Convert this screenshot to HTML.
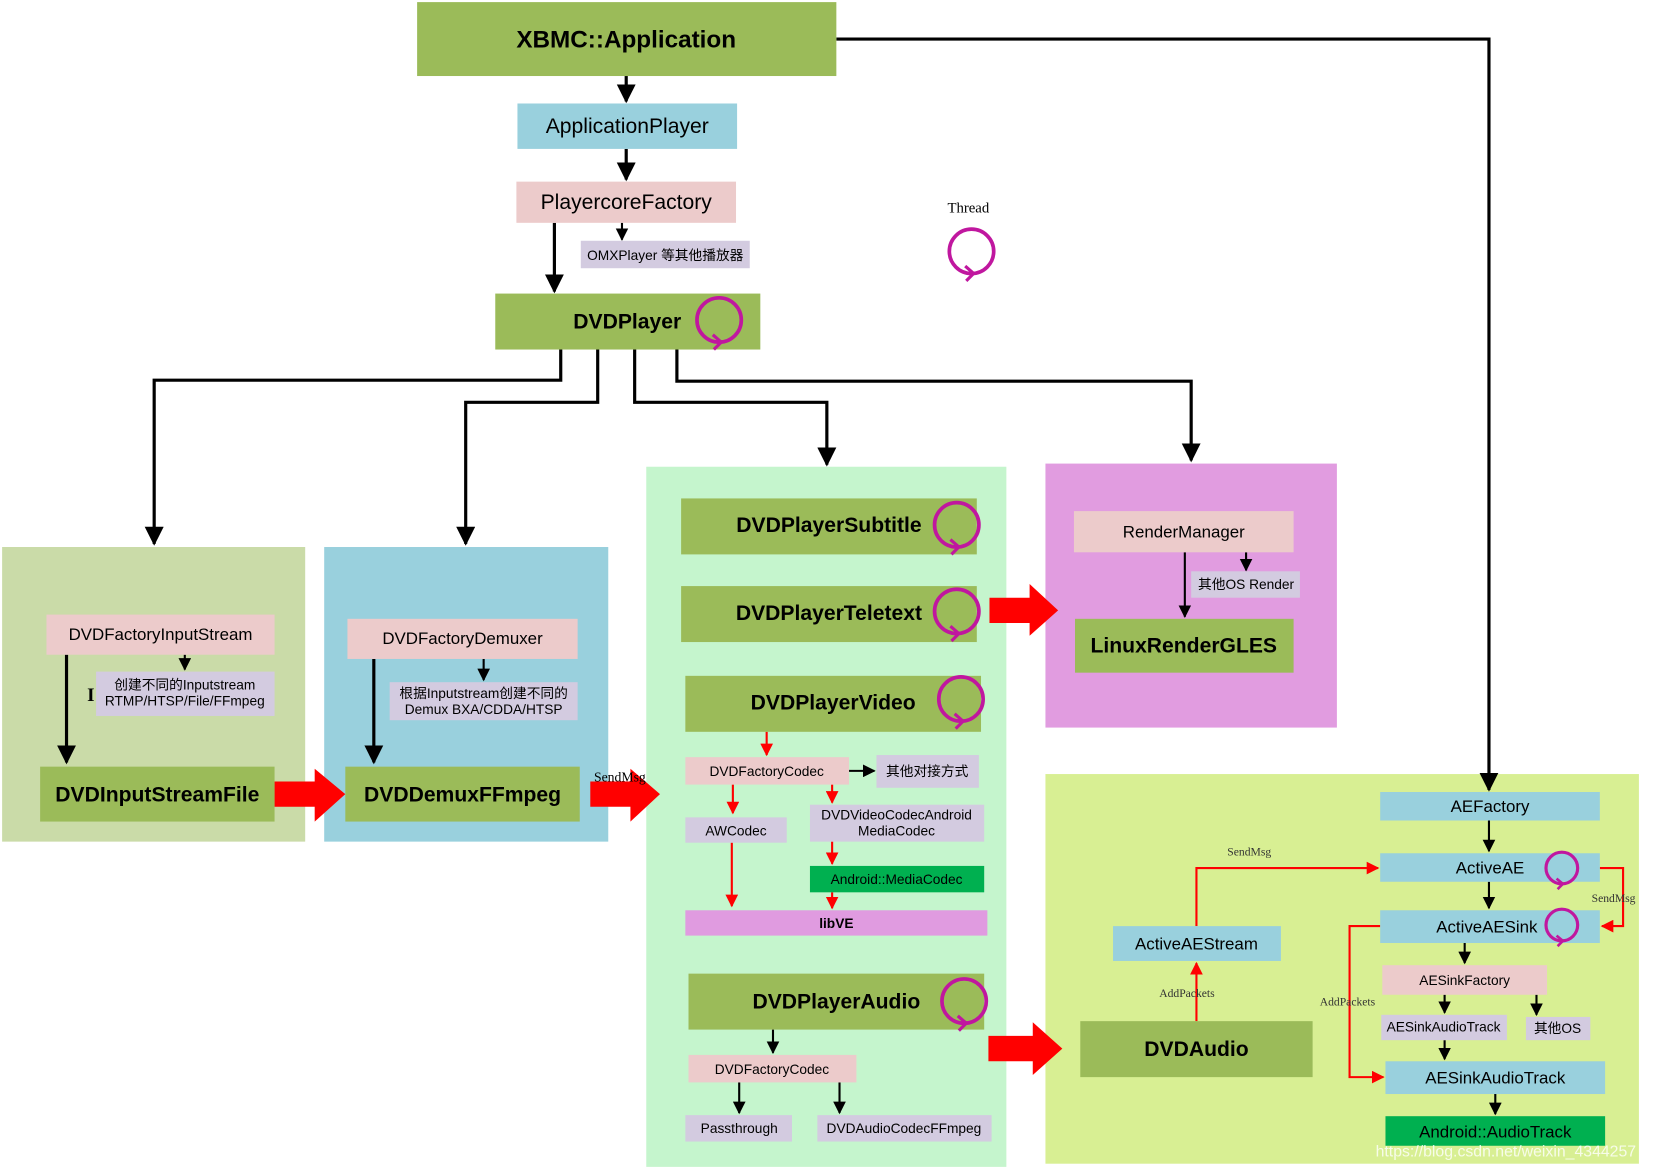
<!DOCTYPE html>
<html><head><meta charset="utf-8"><style>html,body{margin:0;padding:0;background:#fff}svg{display:block}</style></head>
<body>
<svg xmlns="http://www.w3.org/2000/svg" width="1656" height="1170" viewBox="0 0 1656 1170">
<defs>
<marker id="ab" viewBox="0 0 10 10" refX="9" refY="5" markerWidth="6" markerHeight="6" orient="auto"><path d="M0,0L10,5L0,10z" fill="#000"/></marker>
<marker id="ar" viewBox="0 0 10 10" refX="9" refY="5" markerWidth="6" markerHeight="6" orient="auto"><path d="M0,0L10,5L0,10z" fill="#f00"/></marker>
<g id="th"><circle cx="0" cy="0" r="21" fill="none" stroke="#c0179f" stroke-width="3.5"/><path d="M-6,14 L2,21 L-5,28" fill="none" stroke="#c0179f" stroke-width="3"/></g>
<g id="ths"><circle cx="0" cy="0" r="15" fill="none" stroke="#c0179f" stroke-width="3"/><path d="M-5,10 L1,15 L-4,20" fill="none" stroke="#c0179f" stroke-width="2.5"/></g>
</defs>
<g transform="scale(1.056)" font-family="Liberation Sans, Noto Sans CJK SC, sans-serif" text-anchor="middle" fill="#000">
<rect x="2" y="518" width="287" height="279" fill="#cadba8"/>
<rect x="307" y="518" width="269" height="279" fill="#99d0dd"/>
<rect x="612" y="442" width="341" height="663" fill="#c5f5cd"/>
<rect x="990" y="439" width="276" height="250" fill="#e19ce0"/>
<rect x="990" y="733" width="562" height="369" fill="#d8ef93"/>

<g fill="none" stroke="#000" stroke-width="3">
<path d="M593,72V96" marker-end="url(#ab)"/>
<path d="M593,141V170" marker-end="url(#ab)"/>
<path d="M525,211V276" marker-end="url(#ab)"/>
<path d="M531,331V360H146V515" marker-end="url(#ab)"/>
<path d="M566,331V381H441V515" marker-end="url(#ab)"/>
<path d="M601,331V381H783V440" marker-end="url(#ab)"/>
<path d="M641,331V361H1128V436" marker-end="url(#ab)"/>
<path d="M792,37H1410V748" marker-end="url(#ab)"/>
<path d="M63,620V722" marker-end="url(#ab)"/>
<path d="M354,624V722" marker-end="url(#ab)"/>
</g>
<g fill="none" stroke="#000" stroke-width="2">
<path d="M589,211V227" marker-end="url(#ab)"/>
<path d="M175,620V634" marker-end="url(#ab)"/>
<path d="M458,624V644" marker-end="url(#ab)"/>
<path d="M804,730H828" marker-end="url(#ab)"/>
<path d="M732,975V997" marker-end="url(#ab)"/>
<path d="M700,1025V1054" marker-end="url(#ab)"/>
<path d="M795,1025V1054" marker-end="url(#ab)"/>
<path d="M1180,523V540" marker-end="url(#ab)"/>
<path d="M1122,523V584" marker-end="url(#ab)"/>
<path d="M1410,777V806" marker-end="url(#ab)"/>
<path d="M1410,835V860" marker-end="url(#ab)"/>
<path d="M1387,893V912" marker-end="url(#ab)"/>
<path d="M1368,942V959" marker-end="url(#ab)"/>
<path d="M1455,942V961" marker-end="url(#ab)"/>
<path d="M1368,985V1003" marker-end="url(#ab)"/>
<path d="M1416,1036V1055" marker-end="url(#ab)"/>
</g>
<g fill="none" stroke="#f00" stroke-width="2">
<path d="M726,693V715" marker-end="url(#ar)"/>
<path d="M694,743V770" marker-end="url(#ar)"/>
<path d="M788,743V760" marker-end="url(#ar)"/>
<path d="M788,797V818" marker-end="url(#ar)"/>
<path d="M693,798V858" marker-end="url(#ar)"/>
<path d="M788,845V860" marker-end="url(#ar)"/>
<path d="M1515,822H1537V877H1517" marker-end="url(#ar)"/>
<path d="M1133,967V912" marker-end="url(#ar)"/>
<path d="M1133,877V822H1305" marker-end="url(#ar)"/>
<path d="M1307,877H1278V1020H1310" marker-end="url(#ar)"/>
</g>
<g fill="#f00">
<path d="M260,740H298V728L327,752L298,778V764H260z"/>
<path d="M559,740H597V728L625,752L597,778V764H559z"/>
<path d="M937,566H975V553L1002,578L975,602V590H937z"/>
<path d="M936,981H978V968L1006,993L978,1018V1005H936z"/>
</g>

<rect x="395" y="2" width="397" height="70" fill="#9bbb59"/>
<text x="593" y="45" font-size="23" font-weight="bold">XBMC::Application</text>
<rect x="490" y="98" width="208" height="43" fill="#99d0dd"/>
<text x="594" y="126" font-size="20">ApplicationPlayer</text>
<rect x="489" y="172" width="208" height="39" fill="#eccbcb"/>
<text x="593" y="198" font-size="20">PlayercoreFactory</text>
<rect x="550" y="228" width="160" height="26" fill="#d3cbe0"/>
<text x="630" y="246" font-size="13">OMXPlayer 等其他播放器</text>
<rect x="469" y="278" width="251" height="53" fill="#9bbb59"/>
<text x="594" y="311" font-size="20" font-weight="bold">DVDPlayer</text>
<use href="#th" x="681" y="303"/>
<text x="917" y="201" font-size="14" font-family="Liberation Serif, serif">Thread</text>
<use href="#th" x="920" y="238"/>

<rect x="44" y="582" width="216" height="38" fill="#eccbcb"/>
<text x="152" y="606" font-size="16">DVDFactoryInputStream</text>
<text x="86" y="664" font-size="18" font-weight="bold" font-family="Liberation Serif, serif">I</text>
<rect x="91" y="636" width="169" height="42" fill="#d3cbe0"/>
<text x="175" y="653" font-size="13">创建不同的Inputstream</text>
<text x="175" y="668" font-size="13">RTMP/HTSP/File/FFmpeg</text>
<rect x="38" y="726" width="222" height="52" fill="#9bbb59"/>
<text x="149" y="759" font-size="20" font-weight="bold">DVDInputStreamFile</text>

<rect x="329" y="586" width="218" height="38" fill="#eccbcb"/>
<text x="438" y="610" font-size="16">DVDFactoryDemuxer</text>
<rect x="369" y="646" width="178" height="36" fill="#d3cbe0"/>
<text x="458" y="661" font-size="13">根据Inputstream创建不同的</text>
<text x="458" y="676" font-size="13">Demux   BXA/CDDA/HTSP</text>
<rect x="327" y="726" width="222" height="52" fill="#9bbb59"/>
<text x="438" y="759" font-size="20" font-weight="bold">DVDDemuxFFmpeg</text>
<text x="587" y="740" font-size="13" font-family="Liberation Serif, serif">SendMsg</text>

<rect x="645" y="472" width="280" height="53" fill="#9bbb59"/>
<text x="785" y="504" font-size="20" font-weight="bold">DVDPlayerSubtitle</text>
<use href="#th" x="906" y="497"/>
<rect x="645" y="555" width="280" height="53" fill="#9bbb59"/>
<text x="785" y="587" font-size="20" font-weight="bold">DVDPlayerTeletext</text>
<use href="#th" x="906" y="579"/>
<rect x="649" y="640" width="280" height="53" fill="#9bbb59"/>
<text x="789" y="672" font-size="20" font-weight="bold">DVDPlayerVideo</text>
<use href="#th" x="910" y="662"/>
<rect x="649" y="717" width="155" height="26" fill="#eccbcb"/>
<text x="726" y="735" font-size="13">DVDFactoryCodec</text>
<rect x="830" y="715" width="97" height="31" fill="#d3cbe0"/>
<text x="878" y="735" font-size="13">其他对接方式</text>
<rect x="649" y="774" width="96" height="24" fill="#d3cbe0"/>
<text x="697" y="791" font-size="13">AWCodec</text>
<rect x="767" y="762" width="165" height="35" fill="#d3cbe0"/>
<text x="849" y="776" font-size="13">DVDVideoCodecAndroid</text>
<text x="849" y="791" font-size="13">MediaCodec</text>
<rect x="767" y="820" width="165" height="25" fill="#00b050"/>
<text x="849" y="837" font-size="13">Android::MediaCodec</text>
<rect x="649" y="862" width="286" height="24" fill="#e09be0"/>
<text x="792" y="879" font-size="13" font-weight="bold">libVE</text>

<rect x="652" y="922" width="280" height="53" fill="#9bbb59"/>
<text x="792" y="955" font-size="20" font-weight="bold">DVDPlayerAudio</text>
<use href="#th" x="913" y="948"/>
<rect x="652" y="999" width="159" height="26" fill="#eccbcb"/>
<text x="731" y="1017" font-size="13">DVDFactoryCodec</text>
<rect x="649" y="1056" width="101" height="25" fill="#d3cbe0"/>
<text x="700" y="1073" font-size="13">Passthrough</text>
<rect x="774" y="1056" width="165" height="25" fill="#d3cbe0"/>
<text x="856" y="1073" font-size="13">DVDAudioCodecFFmpeg</text>

<rect x="1017" y="484" width="208" height="39" fill="#eccbcb"/>
<text x="1121" y="509" font-size="16">RenderManager</text>
<rect x="1128" y="541" width="103" height="25" fill="#d3cbe0"/>
<text x="1180" y="558" font-size="13">其他OS Render</text>
<rect x="1018" y="586" width="207" height="51" fill="#9bbb59"/>
<text x="1121" y="618" font-size="20" font-weight="bold">LinuxRenderGLES</text>

<rect x="1307" y="750" width="208" height="27" fill="#99d0dd"/>
<text x="1411" y="769" font-size="16">AEFactory</text>
<rect x="1307" y="808" width="208" height="27" fill="#99d0dd"/>
<text x="1411" y="827" font-size="16">ActiveAE</text>
<use href="#ths" x="1479" y="822"/>
<rect x="1307" y="862" width="208" height="31" fill="#99d0dd"/>
<text x="1408" y="883" font-size="16">ActiveAESink</text>
<use href="#ths" x="1479" y="876"/>
<text x="1528" y="854" font-size="11" font-family="Liberation Serif, serif" fill="#333">SendMsg</text>
<rect x="1054" y="877" width="159" height="33" fill="#99d0dd"/>
<text x="1133" y="899" font-size="16">ActiveAEStream</text>
<text x="1124" y="944" font-size="11" font-family="Liberation Serif, serif" fill="#333">AddPackets</text>
<text x="1183" y="810" font-size="11" font-family="Liberation Serif, serif" fill="#333">SendMsg</text>
<text x="1276" y="952" font-size="11" font-family="Liberation Serif, serif" fill="#333">AddPackets</text>
<rect x="1023" y="967" width="220" height="53" fill="#9bbb59"/>
<text x="1133" y="1000" font-size="20" font-weight="bold">DVDAudio</text>
<rect x="1309" y="914" width="156" height="28" fill="#eccbcb"/>
<text x="1387" y="933" font-size="13">AESinkFactory</text>
<rect x="1308" y="961" width="119" height="24" fill="#d3cbe0"/>
<text x="1367" y="977" font-size="13">AESinkAudioTrack</text>
<rect x="1445" y="963" width="61" height="22" fill="#d3cbe0"/>
<text x="1475" y="978" font-size="13">其他OS</text>
<rect x="1312" y="1005" width="208" height="31" fill="#99d0dd"/>
<text x="1416" y="1026" font-size="16">AESinkAudioTrack</text>
<rect x="1312" y="1057" width="208" height="28" fill="#00b050"/>
<text x="1416" y="1077" font-size="16">Android::AudioTrack</text>
<text x="1426" y="1095" font-size="15" fill="#fff" fill-opacity="0.8">https://blog.csdn.net/weixin_4344257</text>
</g>
</svg>
</body></html>
